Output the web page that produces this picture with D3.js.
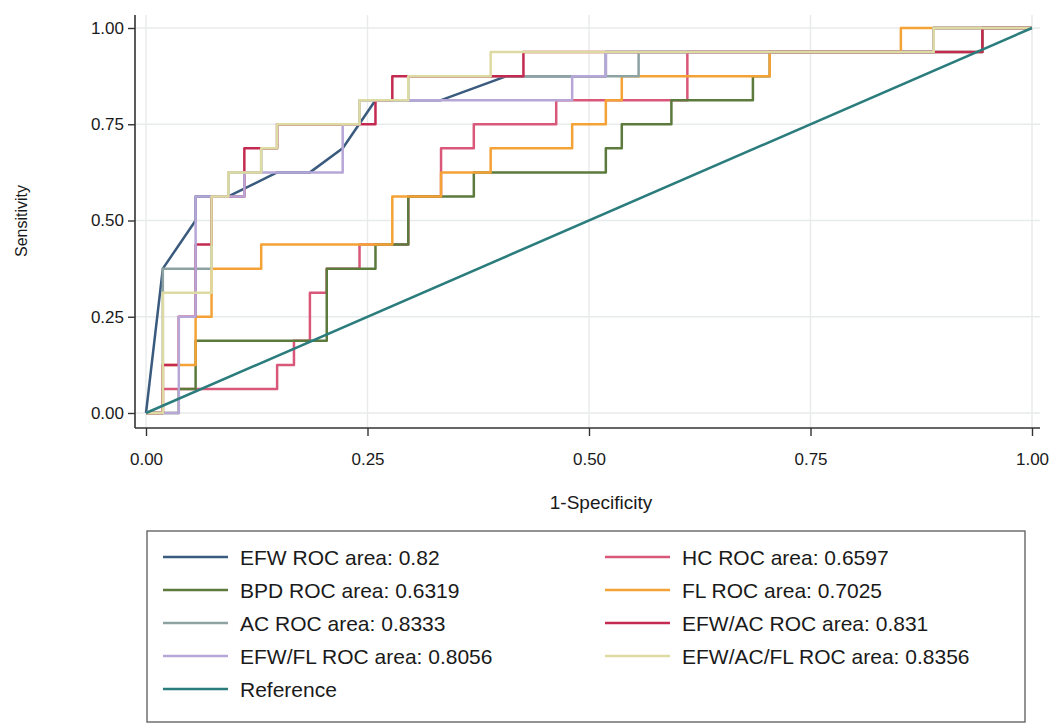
<!DOCTYPE html>
<html lang="en">
<head>
<meta charset="utf-8">
<title>ROC curves</title>
<script src="https://cdn.jsdelivr.net/npm/d3@7/dist/d3.min.js"></script>
<style>
  body { margin: 0; background: #fff; }
  text { font-family: "Liberation Sans", Arial, Helvetica, sans-serif; fill: #1a1a1a; }
</style>
</head>
<body>
<script>
// ROC points (1-specificity, sensitivity)
var efwX = [0, .019, .056, .056, .093, .148, .185, .222, .259, .333, .407, .519, .519, .889, .889, 1];
var efwY = [0, .375, .5, .5625, .5625, .625, .625, .6875, .8125, .8125, .875, .875, .9375, .9375, 1, 1];

var hcX = [0, .019, .019, .148, .148, .167, .167, .185, .185, .204, .204, .241, .241, .296, .296, .333, .333, .370, .370, .463, .463, .611, .611, .889, .889, 1];
var hcY = [0, 0, .0625, .0625, .125, .125, .1875, .1875, .3125, .3125, .375, .375, .4375, .4375, .5625, .5625, .6875, .6875, .75, .75, .8125, .8125, .9375, .9375, 1, 1];

var bpdX = [0, .037, .037, .056, .056, .204, .204, .259, .259, .296, .296, .370, .370, .519, .519, .537, .537, .593, .593, .685, .685, .704, .704, .944, .944, 1];
var bpdY = [0, 0, .0625, .0625, .1875, .1875, .375, .375, .4375, .4375, .5625, .5625, .625, .625, .6875, .6875, .75, .75, .8125, .8125, .875, .875, .9375, .9375, 1, 1];

var flX = [0, .019, .019, .056, .056, .074, .074, .130, .130, .278, .278, .333, .333, .389, .389, .481, .481, .519, .519, .537, .537, .704, .704, .852, .852, 1];
var flY = [0, 0, .125, .125, .25, .25, .375, .375, .4375, .4375, .5625, .5625, .625, .625, .6875, .6875, .75, .75, .8125, .8125, .875, .875, .9375, .9375, 1, 1];

var acX = [0, .019, .019, .074, .074, .093, .093, .130, .130, .148, .148, .241, .241, .296, .296, .556, .556, .889, .889, 1];
var acY = [0, 0, .375, .375, .5625, .5625, .625, .625, .6875, .6875, .75, .75, .8125, .8125, .875, .875, .9375, .9375, 1, 1];

var efwacX = [0, .019, .019, .037, .037, .056, .056, .074, .074, .111, .111, .148, .148, .259, .259, .278, .278, .426, .426, .944, .944, 1];
var efwacY = [0, 0, .125, .125, .25, .25, .4375, .4375, .5625, .5625, .6875, .6875, .75, .75, .8125, .8125, .875, .875, .9375, .9375, 1, 1];

var efwflX = [0, .037, .037, .056, .056, .111, .111, .222, .222, .241, .241, .481, .481, .519, .519, .889, .889, 1];
var efwflY = [0, 0, .25, .25, .5625, .5625, .625, .625, .75, .75, .8125, .8125, .875, .875, .9375, .9375, 1, 1];

var efwacflX = [0, .019, .019, .074, .074, .093, .093, .130, .130, .148, .148, .241, .241, .296, .296, .389, .389, .889, .889, 1];
var efwacflY = [0, 0, .3125, .3125, .5625, .5625, .625, .625, .6875, .6875, .75, .75, .8125, .8125, .875, .875, .9375, .9375, 1, 1];

var refX = [0, 1];
var refY = [0, 1];

var legendLabels = ["EFW ROC area: 0.82", "HC ROC area: 0.6597", "BPD ROC area: 0.6319",
  "FL ROC area: 0.7025", "AC ROC area: 0.8333", "EFW/AC ROC area: 0.831",
  "EFW/FL ROC area: 0.8056", "EFW/AC/FL ROC area: 0.8356", "Reference"];
var tickValues = [0, 0.25, 0.5, 0.75, 1];

var series = [
  {x: efwX, y: efwY, color: "#3a5a7e"},
  {x: hcX, y: hcY, color: "#d9587a"},
  {x: bpdX, y: bpdY, color: "#5b7a3c"},
  {x: flX, y: flY, color: "#f4a236"},
  {x: acX, y: acY, color: "#8ea2a2"},
  {x: efwacX, y: efwacY, color: "#c42a50"},
  {x: efwflX, y: efwflY, color: "#b7a6d8"},
  {x: efwacflX, y: efwacflY, color: "#dedba2"},
  {x: refX, y: refY, color: "#2b7c7c"}
];

var svg = d3.select("body").append("svg").attr("width", 1063).attr("height", 728);

var x = d3.scaleLinear().domain([0, 1]).range([146, 1032]);
var y = d3.scaleLinear().domain([0, 1]).range([413, 28]);

// grid
svg.append("g").selectAll("line").data(tickValues).enter().append("line")
  .attr("x1", function(d) { return x(d); }).attr("x2", function(d) { return x(d); })
  .attr("y1", 15).attr("y2", 428)
  .attr("stroke", "#e8ebeb").attr("stroke-width", 1.4);
svg.append("g").selectAll("line").data(tickValues).enter().append("line")
  .attr("x1", 135).attr("x2", 1040)
  .attr("y1", function(d) { return y(d); }).attr("y2", function(d) { return y(d); })
  .attr("stroke", "#e8ebeb").attr("stroke-width", 1.4);

// curves
var line = d3.line()
  .x(function(d) { return x(d[0]); })
  .y(function(d) { return y(d[1]); });

series.forEach(function(s) {
  var pts = s.x.map(function(v, i) { return [v, s.y[i]]; });
  svg.append("path")
    .attr("d", line(pts))
    .attr("fill", "none")
    .attr("stroke", s.color)
    .attr("stroke-width", 2.5)
    .attr("stroke-linejoin", "round");
});

// axes
var yAxis = d3.axisLeft(y).tickValues(tickValues).tickFormat(d3.format(".2f")).tickSize(7).tickPadding(4);
var gy = svg.append("g").attr("transform", "translate(135,0)").call(yAxis);
var xAxis = d3.axisBottom(x).tickValues(tickValues).tickFormat(d3.format(".2f")).tickSize(8).tickPadding(17);
var gx = svg.append("g").attr("transform", "translate(0,428)").call(xAxis);
[gx, gy].forEach(function(g) {
  g.select(".domain").remove();
  g.selectAll(".tick line").attr("stroke", "#333").attr("stroke-width", 1.4);
  g.selectAll(".tick text").style("font-size", "17px").attr("fill", "#1a1a1a");
});
svg.append("line").attr("x1", 135).attr("x2", 135).attr("y1", 15).attr("y2", 428)
  .attr("stroke", "#333").attr("stroke-width", 1.6);
svg.append("line").attr("x1", 135).attr("x2", 1040).attr("y1", 428).attr("y2", 428)
  .attr("stroke", "#333").attr("stroke-width", 1.6);

// axis titles
svg.append("text").attr("x", 601).attr("y", 509).attr("text-anchor", "middle")
  .style("font-size", "19px").text("1-Specificity");
svg.append("text").attr("transform", "translate(27,221) rotate(-90)").attr("text-anchor", "middle")
  .style("font-size", "16px").text("Sensitivity");

// legend
svg.append("rect").attr("x", 147).attr("y", 531).attr("width", 878).attr("height", 191)
  .attr("fill", "#fff").attr("stroke", "#666").attr("stroke-width", 1.4);
var leg = svg.append("g").selectAll("g").data(series).enter().append("g")
  .attr("transform", function(d, i) {
    return "translate(" + (i % 2 === 0 ? 163 : 605) + "," + (557 + Math.floor(i / 2) * 33) + ")";
  });
leg.append("line").attr("x1", 0).attr("x2", 65).attr("y1", 0).attr("y2", 0)
  .attr("stroke", function(d) { return d.color; }).attr("stroke-width", 2.5);
leg.append("text").attr("x", 77).attr("y", 7.5).style("font-size", "21px")
  .text(function(d, i) { return legendLabels[i]; });
</script>
</body>
</html>
